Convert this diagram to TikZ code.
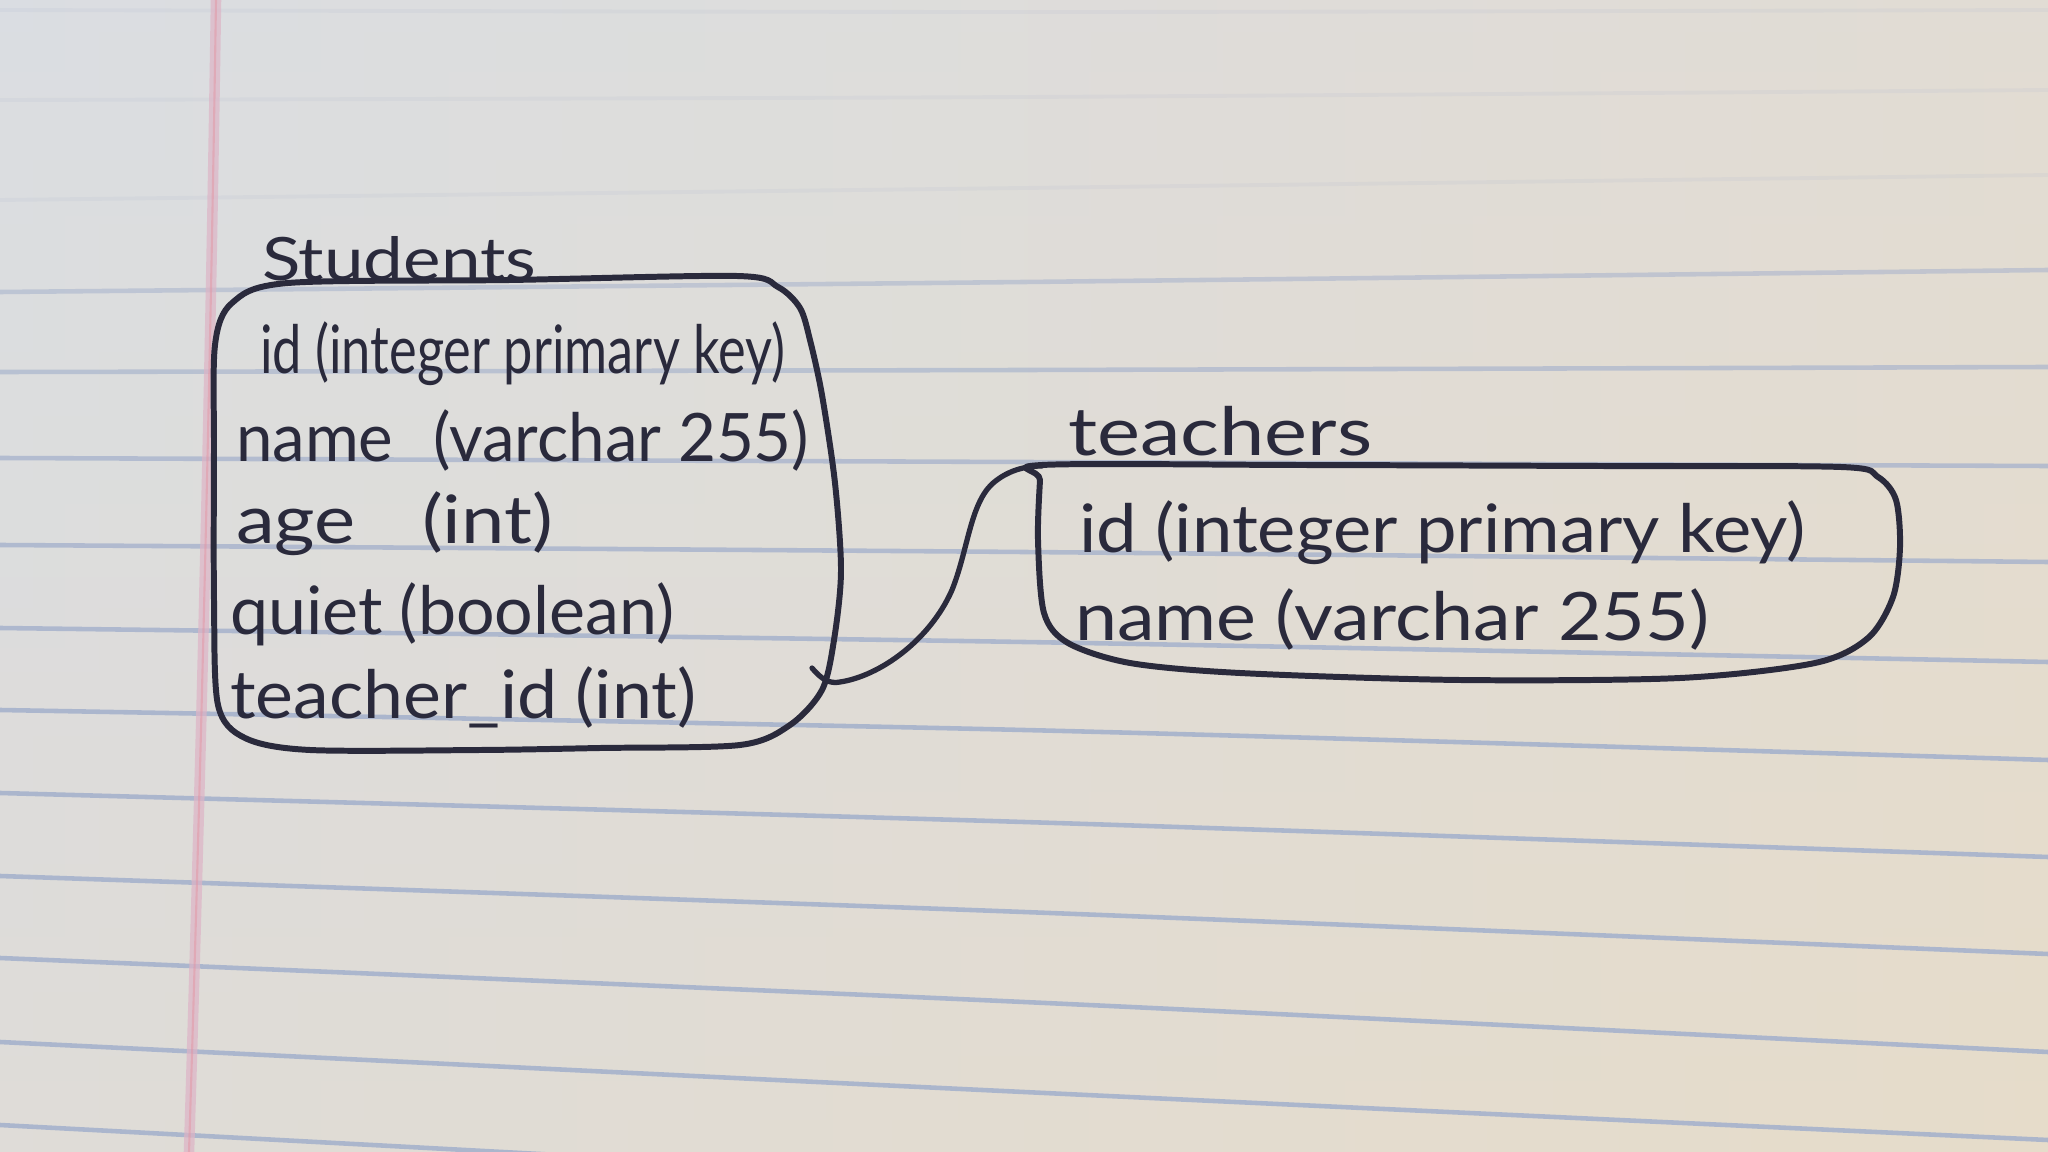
\documentclass[tikz,border=0pt]{standalone}
\usepackage{fontspec}
\setmainfont{Lato}
\usepackage{graphicx}
\definecolor{ink}{HTML}{2A2A3C}
\definecolor{rulec}{HTML}{A6B2CC}
\definecolor{marginc}{HTML}{DDB4C6}
\definecolor{ptop}{HTML}{DCDEE2}
\definecolor{pmid}{HTML}{EAE6DC}
\definecolor{pbot}{HTML}{E4DDD0}
\definecolor{warm}{HTML}{E9DBC3}
\definecolor{cool}{HTML}{D9DCE2}
\tikzset{
  hwtext/.style={anchor=base west, inner sep=0pt, outer sep=0pt, text=ink,
    font=\fontsize{19pt}{22pt}\selectfont},
  hwlabel/.style={hwtext, font=\fontsize{17pt}{20pt}\selectfont},
  inkline/.style={draw=ink, line width=1.5pt, line cap=round, line join=round},
  boxline/.style={inkline, line width=1.7pt},
  ruled/.style={draw=rulec, line width=1.3pt},
  faintrule/.style={draw=rulec, line width=1.1pt, draw opacity=0.12},
}
\begin{document}
\begin{tikzpicture}[x=0.01cm,y=-0.01cm]
\useasboundingbox (0,0) rectangle (2048,1152);
\clip (0,0) rectangle (2048,1152);
% paper
\shade[top color=ptop, middle color=pmid, bottom color=pbot] (0,0) rectangle (2048,1152);
\shade[left color=cool, right color=warm, fill opacity=0.45] (0,0) rectangle (2048,1152);
% faint upper rules
\foreach \a/\b/\c in {10/12/10, 100/97/90, 200/188/175}
  \draw[faintrule] plot[smooth] coordinates {(0,\a) (1024,\b) (2048,\c)};
% rules
\foreach \a/\b/\c/\o in {292/282/270/0.55, 372/370/367/0.65, 458/462/466/0.75, 545/552/562/0.8,
    628/642/662/0.85, 710/730/760/0.9, 793/822/857/0.9, 876/912/954/0.9, 958/1002/1052/0.9,
    1042/1092/1140/0.9, 1125/1180/1235/0.9}
  \draw[ruled, draw opacity=\o] plot[smooth] coordinates {(0,\a) (1024,\b) (2048,\c)};
% margin
\draw[marginc, line width=3pt, draw opacity=0.7] (216,0) .. controls (210,400) and (200,800) .. (189,1152);
\draw[marginc!80!red, line width=0.6pt, draw opacity=0.45] (216,0) .. controls (210,400) and (200,800) .. (189,1152);

% students table
\draw[boxline] plot[smooth cycle, tension=0.5] coordinates {
  (288,283) (510,280) (737,276) (778,287) (800,308) (810,340) (822,395)
  (835,483) (841,571) (834,640) (822,690) (790,725) (740,745) (600,748)
  (480,750) (310,750) (245,738) (218,705) (214,600) (214,450) (215,345) (232,303)};
\node[hwlabel] (slabel) at (262,281) {\resizebox{2.74cm}{\height}{Students}};
\node[hwtext] (s1) at (260,374) {\resizebox{5.25cm}{\height}{id (integer primary key)}};
\node[hwtext] (s2) at (236,462) {\resizebox{5.73cm}{\height}{name\hspace{0.35em} (varchar 255)}};
\node[hwtext] (s3) at (236,544) {\resizebox{3.17cm}{\height}{age\hspace{0.6em} (int)}};
\node[hwtext] (s4) at (230,634) {\resizebox{4.44cm}{\height}{quiet (boolean)}};
\node[hwtext] (s5) at (230,718) {\resizebox{4.66cm}{\height}{teacher\_id (int)}};

% teachers table
\draw[boxline] plot[smooth cycle, tension=0.5] coordinates {
  (1042,465) (1300,465) (1600,466) (1841,467) (1878,477) (1896,500) (1900,547)
  (1893,597) (1868,638) (1815,663) (1680,678) (1460,680) (1240,673) (1130,663)
  (1068,643) (1044,613) (1038,540) (1040,480)};
\node[hwtext, font=\fontsize{19pt}{22pt}\selectfont] (tlabel) at (1068,456) {\resizebox{3.04cm}{\height}{teachers}};
\node[hwtext] (t1) at (1079,553) {\resizebox{7.26cm}{\height}{id (integer primary key)}};
\node[hwtext] (t2) at (1075,640) {\resizebox{6.34cm}{\height}{name (varchar 255)}};

% relation
\coordinate (fkstart) at (812,668);
\coordinate (fkend) at (1042,466);
\draw[inkline] (fkstart) .. controls (822,680) and (830,684) .. (840,682)
  .. controls (880,676) and (930,640) .. (952,590)
  .. controls (968,550) and (970,505) .. (992,484)
  .. controls (1010,468) and (1030,466) .. (fkend);
\end{tikzpicture}
\end{document}
